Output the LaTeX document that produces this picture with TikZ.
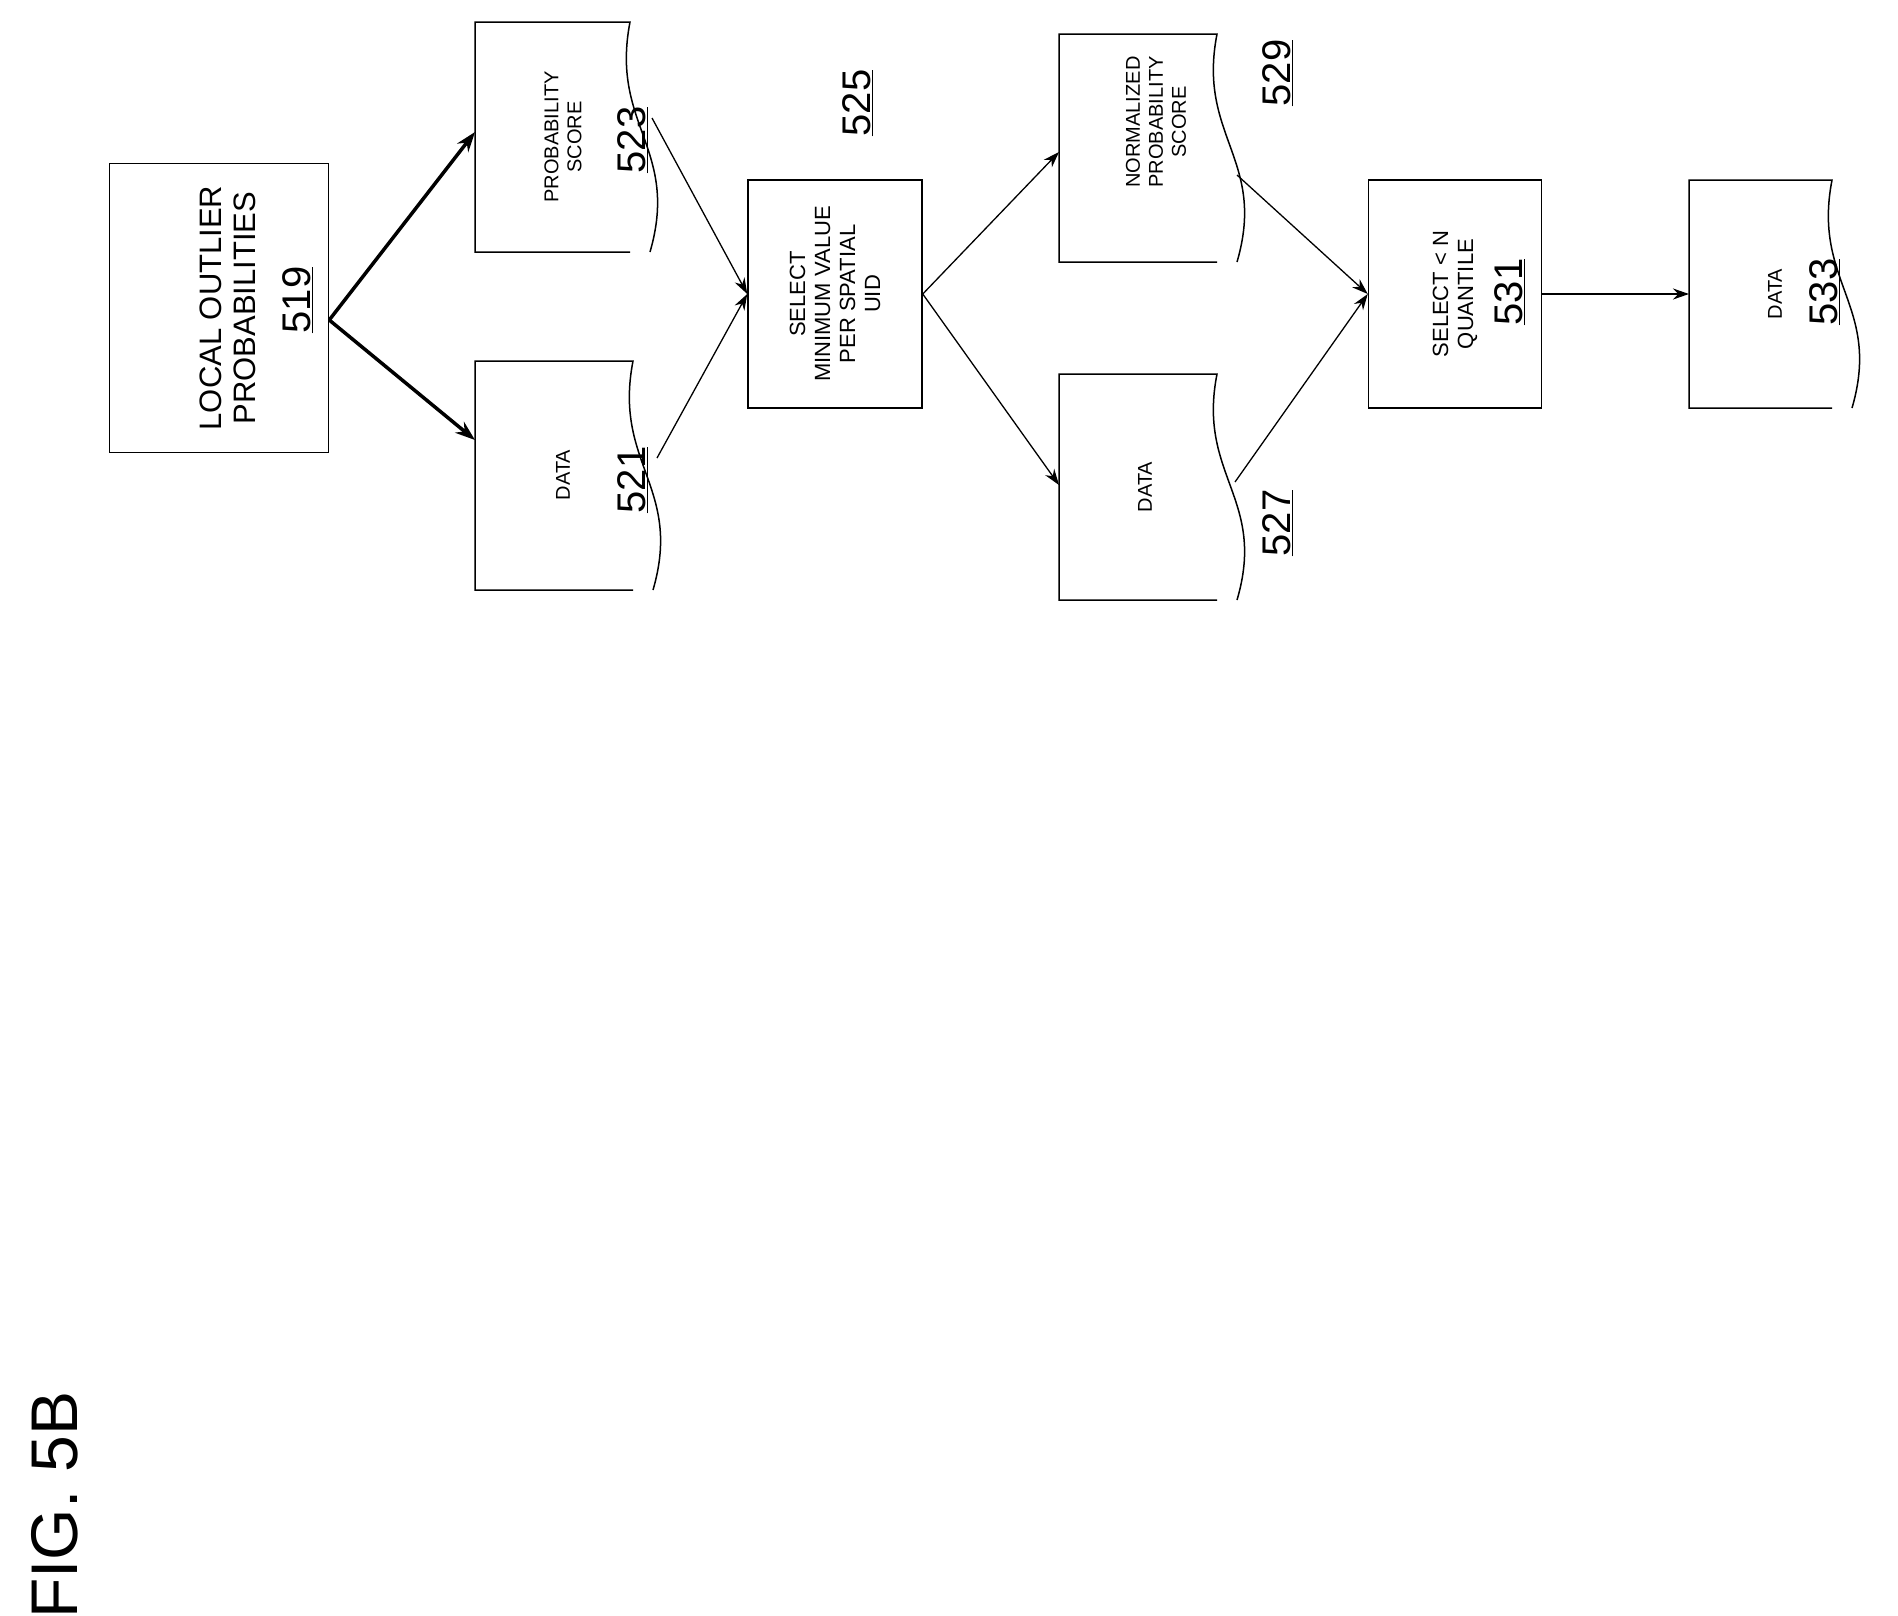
\documentclass[tikz,border=0pt]{standalone}
\usepackage{fontspec}
\setmainfont{Liberation Sans}
\usetikzlibrary{arrows.meta}
\begin{document}
\begin{tikzpicture}[x=1pt,y=-1pt,
  box/.style={draw,line width=1.5pt},
  lbl/.style={rotate=90,align=center,font=\fontsize{20}{23}\selectfont,inner sep=0},
  num/.style={rotate=90,font=\fontsize{40}{44}\selectfont,inner sep=0},
  arr/.style={-{Stealth[length=16pt,width=11pt]},line width=1.3pt},
  tarr/.style={-{Stealth[length=20pt,width=14pt]},line width=3.5pt}]
\useasboundingbox (0,0) rectangle (1898,1615);
\newcommand{\docshape}[5]{% name, x1, y1, x2, y2
  \coordinate (#1-nw) at (#2,#3); \coordinate (#1-sw) at (#2,#5);
  \draw[line width=1.5pt] (#4-30,#5) -- (#2,#5) -- (#2,#3) -- (#4-30,#3)
    .. controls (#4-50,#3+0.45*#5-0.45*#3) and (#4+20,#3+0.55*#5-0.55*#3) .. (#4-10,#5);
}
% 519
\node[box,minimum width=219pt,minimum height=289pt,inner sep=0] (b519) at (219,308) {};
\node[lbl,font=\fontsize{31}{34}\selectfont] (t519) at (228,308) {LOCAL OUTLIER\\PROBABILITIES};
\node[num] (n519) at (298,300) {\underline{519}};
% 523
\docshape{d523}{475}{22}{660}{252}
\node[lbl] (t523) at (563,137) {PROBABILITY\\SCORE};
\node[num] (n523) at (633,140) {\underline{523}};
\coordinate (d523in) at (475,132);
\coordinate (d523out) at (652,118);
% 521
\docshape{d521}{475}{361}{663}{590}
\node[lbl] (t521) at (563,475) {DATA};
\node[num] (n521) at (633,480) {\underline{521}};
\coordinate (d521in) at (475,440);
\coordinate (d521out) at (657,458);
% 525
\node[num] (n525) at (858,103) {\underline{525}};
\node[box,minimum width=174pt,minimum height=228pt,inner sep=0] (b525) at (835,294) {};
\node[lbl,font=\fontsize{22}{25}\selectfont] (t525) at (835,294) {SELECT\\MINIMUM VALUE\\PER SPATIAL\\UID};
% 529
\docshape{d529}{1059}{34}{1247}{262}
\node[lbl] (t529) at (1156,122) {NORMALIZED\\PROBABILITY\\SCORE};
\node[num] (n529) at (1278,73) {\underline{529}};
\coordinate (d529in) at (1059,152);
\coordinate (d529out) at (1237,175);
% 527
\docshape{d527}{1059}{374}{1247}{600}
\node[lbl] (t527) at (1145,487) {DATA};
\node[num] (n527) at (1278,523) {\underline{527}};
\coordinate (d527in) at (1059,485);
\coordinate (d527out) at (1235,482);
% 531
\node[box,minimum width=173pt,minimum height=228pt,inner sep=0] (b531) at (1455,294) {};
\node[lbl,font=\fontsize{22}{25}\selectfont] (t531) at (1455,294) {SELECT < N\\QUANTILE};
\node[num] (n531) at (1510,292) {\underline{531}};
% 533
\docshape{d533}{1689}{180}{1862}{408}
\node[lbl] (t533) at (1775,294) {DATA};
\node[num] (n533) at (1825,292) {\underline{533}};
\coordinate (d533in) at (1689,294);
% arrows
\draw[tarr] (b519.east) ++(0,12) coordinate (s519) -- (d523in);
\draw[tarr] (s519) -- (d521in);
\draw[arr] (d523out) -- (b525.west);
\draw[arr] (d521out) -- (b525.west);
\draw[arr] (b525.east) -- (d529in);
\draw[arr] (b525.east) -- (d527in);
\draw[arr] (d529out) -- (b531.west);
\draw[arr] (d527out) -- (b531.west);
\draw[arr,line width=2pt] (b531.east) -- (d533in);
\node[rotate=90,font=\fontsize{66}{70}\selectfont] (fig) at (55,1505) {FIG. 5B};
\end{tikzpicture}
\end{document}
